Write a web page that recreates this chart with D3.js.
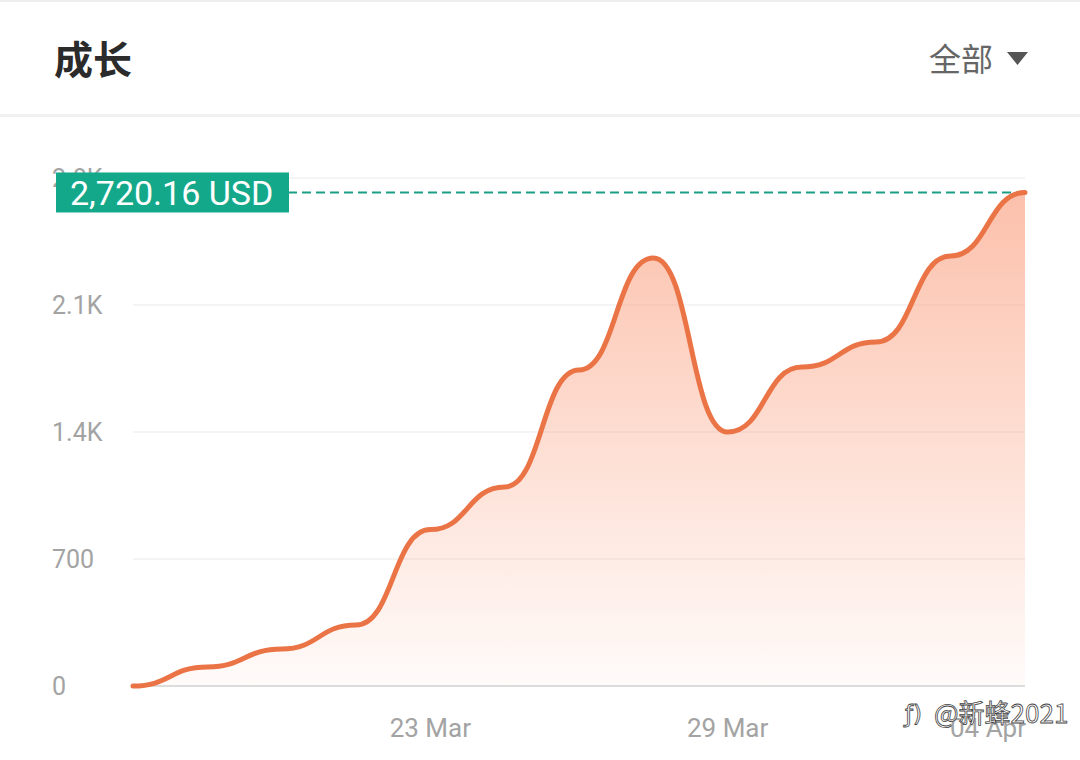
<!DOCTYPE html>
<html><head><meta charset="utf-8">
<script src="https://cdn.jsdelivr.net/npm/d3@7/dist/d3.min.js"></script>
<style>
html,body{margin:0;padding:0;background:#fff;}
svg{display:block;}
</style></head>
<body>
<svg id="chart" width="1080" height="760"></svg>
<script>
// ---- data ----
const dates = ["2021-03-17T00:00","2021-03-18T12:00","2021-03-20T00:00","2021-03-21T12:00",
  "2021-03-23T00:00","2021-03-24T12:00","2021-03-26T00:00","2021-03-27T12:00",
  "2021-03-29T00:00","2021-03-30T12:00","2021-04-01T00:00","2021-04-02T12:00","2021-04-04T00:00"];
const values = [0, 105, 204, 336, 862, 1097, 1742, 2359, 1400, 1758, 1896, 2370, 2720.16];
const yTicks = [0, 700, 1400, 2100, 2800];
const yTickLabels = ["0", "700", "1.4K", "2.1K", "2.8K"];
const xTickDates = ["2021-03-23T00:00", "2021-03-29T00:00", "2021-04-04T00:00"];
const xTickLabels = ["23 Mar", "29 Mar", "04 Apr"];
const title = "成长";
const filterLabel = "全部";
const currentLabel = "2,720.16 USD";
const watermark = "@新蜂2021";

const svg = d3.select("#chart");
const parse = d3.isoParse;
const data = dates.map((d, i) => ({date: parse(d), value: values[i]}));

const x = d3.scaleTime().domain([parse(dates[0]), parse(dates[dates.length - 1])]).range([133, 1025]);
const y = d3.scaleLinear().domain([0, 2800]).range([686, 178]);

// header
svg.append("rect").attr("x", 0).attr("y", 0).attr("width", 1080).attr("height", 2).attr("fill", "#eeeeee");
svg.append("rect").attr("x", 0).attr("y", 114).attr("width", 1080).attr("height", 3).attr("fill", "#f0f0f0");
svg.append("text").attr("x", 54).attr("y", 74).text(title)
  .attr("font-family", "'Noto Sans CJK SC'").attr("font-weight", 700).attr("font-size", 39).attr("fill", "#2b2b2b");
svg.append("text").attr("x", 993).attr("y", 71).attr("text-anchor", "end").text(filterLabel)
  .attr("font-family", "'Noto Sans CJK SC'").attr("font-size", 32).attr("fill", "#666");
svg.append("path").attr("d", "M1007,52 L1028,52 L1017.5,65 Z").attr("fill", "#555");

// grid
const grid = svg.append("g");
yTicks.forEach((t, i) => {
  grid.append("line").attr("x1", 133).attr("x2", 1025).attr("y1", y(t)).attr("y2", y(t))
    .attr("stroke", i === 0 ? "#dddddd" : "#f0f0f0").attr("stroke-width", i === 0 ? 2 : 1.5);
});

// y labels
const yAxis = svg.append("g");
yTicks.forEach((t, i) => {
  yAxis.append("text").attr("x", 52).attr("y", y(t)).attr("dy", "0.36em").text(yTickLabels[i])
    .attr("font-family", "Roboto, 'Noto Sans', sans-serif").attr("font-size", 25).attr("fill", "#a3a3a3");
});

// x labels
xTickDates.forEach((d, i) => {
  const last = i === xTickDates.length - 1;
  svg.append("text").attr("x", last ? x(parse(d)) + 1 : x(parse(d))).attr("y", 737)
    .attr("text-anchor", last ? "end" : "middle").text(xTickLabels[i])
    .attr("font-family", "Roboto, 'Noto Sans', sans-serif").attr("font-size", 26).attr("fill", "#a3a3a3");
});

// gradient
const defs = svg.append("defs");
const grad = defs.append("linearGradient").attr("id", "areaGrad")
  .attr("gradientUnits", "userSpaceOnUse").attr("x1", 0).attr("x2", 0).attr("y1", y(2720)).attr("y2", y(0));
grad.append("stop").attr("offset", "0%").attr("stop-color", "#fa9a78").attr("stop-opacity", 0.62);
grad.append("stop").attr("offset", "100%").attr("stop-color", "#fa9a78").attr("stop-opacity", 0.04);

const curve = d3.curveBumpX;
const area = d3.area().x(d => x(d.date)).y0(y(0)).y1(d => y(d.value)).curve(curve);
const line = d3.line().x(d => x(d.date)).y(d => y(d.value)).curve(curve);

svg.append("path").datum(data).attr("d", area).attr("fill", "url(#areaGrad)");

// dashed current line
const lastV = values[values.length - 1];
svg.append("line").attr("x1", 288).attr("x2", 1025).attr("y1", y(lastV)).attr("y2", y(lastV))
  .attr("stroke", "#1a9e85").attr("stroke-width", 2).attr("stroke-dasharray", "9 5");

svg.append("path").datum(data).attr("d", line).attr("fill", "none")
  .attr("stroke", "#eb7446").attr("stroke-width", 5).attr("stroke-linecap", "round");

// current value label
svg.append("rect").attr("x", 56).attr("y", y(lastV) - 20).attr("width", 233).attr("height", 40).attr("fill", "#14a88a");
svg.append("text").attr("x", 70).attr("y", y(lastV)).attr("dy", "0.36em").text(currentLabel)
  .attr("font-family", "Roboto, 'Noto Sans', sans-serif").attr("font-size", 34).attr("fill", "#ffffff");

// watermark
svg.append("text").attr("x", 905).attr("y", 722).text("ƒ)")
  .attr("font-family", "'DejaVu Sans'").attr("font-size", 23).attr("fill", "#fff").attr("stroke", "#444").attr("stroke-width", 0.8);
svg.append("text").attr("x", 934).attr("y", 723).text(watermark)
  .attr("font-family", "'Noto Sans CJK SC'").attr("font-size", 26).attr("fill", "#fff").attr("stroke", "#444").attr("stroke-width", 0.8);
</script>
</body></html>
